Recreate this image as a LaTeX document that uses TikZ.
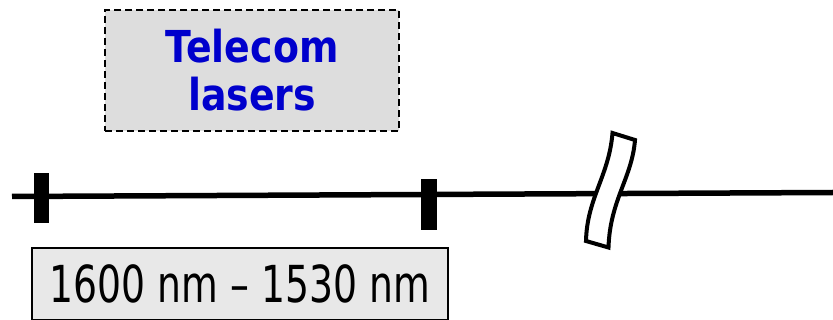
\documentclass[tikz,border=0pt]{standalone}
\usepackage{fontspec}
\setmainfont{DejaVu Sans}
\definecolor{labelblue}{RGB}{0,0,204}
\definecolor{boxgray}{RGB}{221,221,221}
\definecolor{rangegray}{RGB}{232,232,232}
\newcommand{\narrowtext}[2]{\scalebox{#1}[1]{#2}}
\begin{document}
\begin{tikzpicture}[x=1pt,y=-1pt,
  laserbox/.style={draw=black, dash pattern=on 7pt off 4pt, line width=2pt, fill=boxgray,
    minimum width=294pt, minimum height=121pt, inner sep=0pt, align=center,
    text=labelblue, font=\bfseries\fontsize{44}{48}\selectfont},
  rangebox/.style={draw=black, line width=1.5pt, fill=rangegray,
    minimum width=416pt, minimum height=72pt, inner sep=0pt,
    font=\fontsize{51}{54}\selectfont},
  tickmark/.style={fill=black, draw=none, inner sep=0pt},
  axisline/.style={line width=5.5pt},
  breakmark/.style={draw=black, line width=4pt, fill=white, line join=miter}
]
\useasboundingbox (0,0) rectangle (833,320);

% spectrum axis
\coordinate (axisL) at (12,196.5);
\coordinate (axisR) at (833,192.5);
\draw[axisline] (axisL) -- (axisR);

% band edges
\node[tickmark, minimum width=15pt, minimum height=50pt] (tickA) at (41.5,198) {};
\node[tickmark, minimum width=16pt, minimum height=51pt] (tickB) at (429,204.5) {};

% axis break
\draw[breakmark] (612.5,133) -- (635,140)
  .. controls (632,178) and (610,200) .. (608.5,247.5)
  -- (586,241)
  .. controls (587,198) and (609,176) .. (612.5,133) -- cycle;

% labels
\node[laserbox] (lasers) at (252,70.5) {\narrowtext{0.86}{Telecom}\\\narrowtext{0.86}{lasers}};
\node[rangebox] (range) at (240,284) {\narrowtext{0.74}{1600 nm – 1530 nm}};
\end{tikzpicture}
\end{document}
